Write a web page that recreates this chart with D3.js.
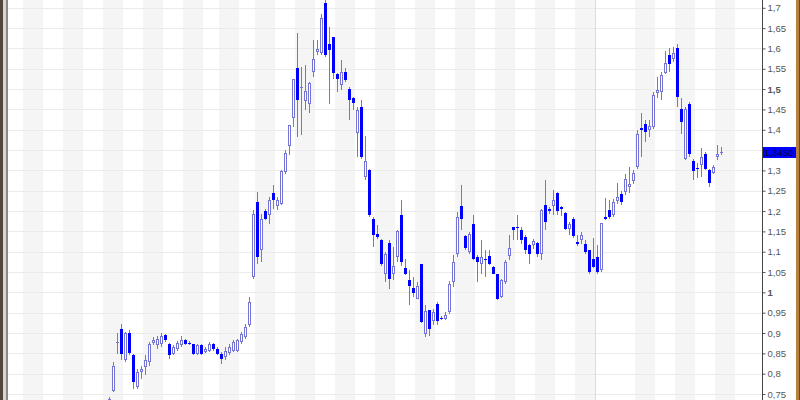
<!DOCTYPE html>
<html>
<head>
<meta charset="utf-8">
<script src="https://cdn.jsdelivr.net/npm/d3@7"></script>
<style>
    html, body { margin: 0; padding: 0; background: #fff; }
    svg { display: block; }
</style>
</head>
<body>
<div id="containerGrafico"></div>
<script>

// candles diarios
const aberturas = [
    0.720, 0.757, 0.875, 0.911, 0.833, 0.900, 0.845, 0.767, 0.804, 0.816,
    0.828, 0.875, 0.870, 0.874, 0.894, 0.874, 0.849, 0.861, 0.870, 0.884,
    0.876, 0.872, 0.849, 0.870, 0.853, 0.857, 0.872, 0.861, 0.849, 0.841,
    0.851, 0.857, 0.857, 0.878, 0.890, 0.919, 1.038, 1.222, 1.103, 1.200,
    1.190, 1.244, 1.212, 1.218, 1.296, 1.360, 1.429, 1.551, 1.502, 1.471,
    1.463, 1.542, 1.591, 1.588, 1.712, 1.612, 1.627, 1.537, 1.509, 1.542,
    1.501, 1.477, 1.391, 1.455, 1.284, 1.300, 1.181, 1.143, 1.128, 1.046,
    1.121, 1.044, 1.087, 1.190, 1.061, 1.031, 1.011, 0.984, 1.071, 0.898,
    0.956, 0.929, 0.972, 0.938, 0.934, 0.952, 1.025, 1.095, 1.212, 1.138,
    1.099, 1.167, 1.087, 1.071, 1.083, 1.089, 1.062, 1.046, 0.988, 1.025,
    1.089, 1.161, 1.162, 1.153, 1.135, 1.116, 1.116, 1.121, 1.095, 1.214,
    1.206, 1.212, 1.244, 1.210, 1.195, 1.157, 1.181, 1.124, 1.128, 1.120,
    1.103, 1.083, 1.087, 1.054, 1.185, 1.202, 1.190, 1.225, 1.242, 1.247,
    1.259, 1.274, 1.308, 1.404, 1.415, 1.399, 1.407, 1.490, 1.493, 1.540,
    1.583, 1.573, 1.602, 1.452, 1.329, 1.463, 1.323, 1.305, 1.313, 1.341,
    1.300, 1.294, 1.333, 1.343
];
const maximas = [
    0.742, 0.828, 0.900, 0.923, 0.902, 0.908, 0.849, 0.812, 0.820, 0.845,
    0.878, 0.890, 0.892, 0.900, 0.898, 0.875, 0.870, 0.880, 0.892, 0.886,
    0.880, 0.874, 0.874, 0.874, 0.865, 0.878, 0.876, 0.865, 0.853, 0.865,
    0.874, 0.884, 0.886, 0.902, 0.923, 0.988, 1.202, 1.247, 1.194, 1.205,
    1.235, 1.263, 1.235, 1.302, 1.349, 1.411, 1.526, 1.638, 1.555, 1.559,
    1.518, 1.622, 1.620, 1.684, 1.722, 1.653, 1.628, 1.539, 1.571, 1.551,
    1.505, 1.481, 1.456, 1.473, 1.384, 1.304, 1.185, 1.165, 1.132, 1.099,
    1.128, 1.111, 1.153, 1.228, 1.083, 1.054, 1.039, 1.025, 1.071, 0.970,
    0.956, 0.960, 0.976, 0.943, 0.952, 1.029, 1.091, 1.197, 1.263, 1.140,
    1.148, 1.190, 1.091, 1.130, 1.103, 1.103, 1.066, 1.046, 1.034, 1.079,
    1.140, 1.162, 1.190, 1.162, 1.140, 1.120, 1.132, 1.124, 1.204, 1.276,
    1.210, 1.251, 1.247, 1.212, 1.197, 1.173, 1.185, 1.140, 1.148, 1.128,
    1.103, 1.134, 1.116, 1.171, 1.231, 1.226, 1.230, 1.268, 1.250, 1.290,
    1.308, 1.300, 1.399, 1.440, 1.423, 1.425, 1.493, 1.530, 1.542, 1.594,
    1.600, 1.604, 1.610, 1.477, 1.456, 1.468, 1.329, 1.318, 1.354, 1.345,
    1.304, 1.313, 1.362, 1.358
];
const minimas = [
    0.710, 0.755, 0.849, 0.833, 0.828, 0.845, 0.763, 0.763, 0.788, 0.796,
    0.820, 0.870, 0.861, 0.865, 0.878, 0.837, 0.845, 0.857, 0.865, 0.870,
    0.870, 0.847, 0.845, 0.847, 0.851, 0.853, 0.857, 0.845, 0.824, 0.833,
    0.845, 0.853, 0.853, 0.874, 0.886, 0.914, 1.034, 1.071, 1.075, 1.177,
    1.169, 1.206, 1.202, 1.214, 1.292, 1.337, 1.407, 1.382, 1.386, 1.448,
    1.440, 1.530, 1.585, 1.583, 1.580, 1.464, 1.526, 1.493, 1.497, 1.518,
    1.423, 1.448, 1.333, 1.329, 1.276, 1.185, 1.111, 1.131, 1.065, 1.025,
    1.009, 1.030, 1.075, 1.066, 1.042, 0.968, 0.988, 0.984, 0.925, 0.890,
    0.893, 0.919, 0.919, 0.932, 0.931, 0.947, 1.013, 1.087, 1.153, 1.103,
    1.095, 1.079, 1.025, 1.046, 1.039, 1.067, 1.044, 0.980, 0.985, 1.021,
    1.079, 1.130, 1.128, 1.120, 1.095, 1.071, 1.107, 1.087, 1.079, 1.153,
    1.194, 1.190, 1.190, 1.188, 1.153, 1.140, 1.134, 1.114, 1.120, 1.095,
    1.046, 1.061, 1.046, 1.050, 1.177, 1.181, 1.185, 1.218, 1.215, 1.239,
    1.245, 1.267, 1.304, 1.333, 1.370, 1.382, 1.403, 1.477, 1.473, 1.538,
    1.542, 1.567, 1.456, 1.390, 1.325, 1.333, 1.276, 1.281, 1.284, 1.302,
    1.259, 1.292, 1.325, 1.337
];
const fechamentos = [
    0.737, 0.820, 0.878, 0.849, 0.899, 0.851, 0.779, 0.804, 0.812, 0.833,
    0.874, 0.882, 0.886, 0.892, 0.882, 0.847, 0.865, 0.875, 0.882, 0.874,
    0.875, 0.849, 0.870, 0.849, 0.861, 0.874, 0.861, 0.849, 0.837, 0.857,
    0.865, 0.878, 0.882, 0.898, 0.915, 0.977, 1.194, 1.087, 1.181, 1.181,
    1.226, 1.228, 1.226, 1.299, 1.343, 1.411, 1.524, 1.474, 1.504, 1.495,
    1.515, 1.573, 1.598, 1.674, 1.583, 1.597, 1.540, 1.526, 1.542, 1.522,
    1.473, 1.467, 1.448, 1.333, 1.323, 1.190, 1.140, 1.136, 1.070, 1.094,
    1.034, 1.066, 1.151, 1.075, 1.046, 1.015, 0.998, 1.015, 0.927, 0.954,
    0.911, 0.952, 0.929, 0.937, 0.945, 1.021, 1.075, 1.185, 1.181, 1.110,
    1.144, 1.083, 1.075, 1.087, 1.082, 1.071, 1.046, 0.984, 1.030, 1.075,
    1.108, 1.154, 1.161, 1.128, 1.103, 1.095, 1.126, 1.095, 1.202, 1.173,
    1.199, 1.226, 1.200, 1.205, 1.157, 1.167, 1.138, 1.118, 1.140, 1.099,
    1.050, 1.062, 1.050, 1.171, 1.180, 1.185, 1.222, 1.234, 1.222, 1.280,
    1.267, 1.294, 1.389, 1.399, 1.394, 1.409, 1.485, 1.498, 1.534, 1.563,
    1.561, 1.589, 1.481, 1.419, 1.450, 1.340, 1.299, 1.304, 1.333, 1.304,
    1.269, 1.308, 1.341, 1.345
];

const ticksPreco = [0.75, 0.8, 0.85, 0.9, 0.95, 1, 1.05, 1.1, 1.15, 1.2, 1.25,
    1.3, 1.35, 1.4, 1.45, 1.5, 1.55, 1.6, 1.65, 1.7];

// inicio (indice do candle) de cada semana sombreada
const semanasCinza = [-21, -11, -1, 9, 19, 28, 37, 47, 57, 67, 77, 87, 97, 107, 117, 132, 142, 152];
const viradaAno = 122;
const ultimoPreco = 1.345;


class GraficoCandles {

    constructor(noRaiz) {
        this.noRaiz = noRaiz;
        this.largura = 800;
        this.altura = 400;
        this.local = d3.formatLocale({decimal: ",", thousands: ".", grouping: [3], currency: ["", ""]});
        this.renderizar();
    }

    renderizar() {
        const largura = this.largura;
        const altura = this.altura;
        const eixoX = 762;
        const esquerda = 8;

        const candles = aberturas.map((a, i) => ({
            i: i, o: a, h: maximas[i], l: minimas[i], c: fechamentos[i]
        }));

        const x = d3.scaleLinear().domain([-25.25, 163.25]).range([esquerda, eixoX]);
        const y = d3.scaleLinear().domain([0.75, 1.7]).range([394, 7.8]);

        const svg = d3.select(this.noRaiz).append("svg")
            .attr("width", largura)
            .attr("height", altura)
            .style("font-family", "'Liberation Sans', Arial, sans-serif");

        svg.append("rect").attr("width", largura).attr("height", altura).attr("fill", "#fff");

        const area = svg.append("g");

        area.selectAll(".banda")
            .data(semanasCinza)
                .enter().append("rect")
                    .attr("class", "banda")
                    .attr("x", (d) => Math.round(x(d - 0.5)))
                    .attr("y", 0)
                    .attr("width", (d) => Math.round(x(d + 4.5)) - Math.round(x(d - 0.5)))
                    .attr("height", altura)
                    .attr("fill", "#f5f5f5");

        area.selectAll(".grade")
            .data(ticksPreco)
                .enter().append("line")
                    .attr("class", "grade")
                    .attr("x1", esquerda)
                    .attr("x2", eixoX)
                    .attr("y1", (d) => Math.round(y(d)) + 0.5)
                    .attr("y2", (d) => Math.round(y(d)) + 0.5)
                    .attr("stroke", "#ebebeb");

        area.append("line")
            .attr("x1", Math.round(x(viradaAno - 0.5)) + 0.5)
            .attr("x2", Math.round(x(viradaAno - 0.5)) + 0.5)
            .attr("y1", 0)
            .attr("y2", altura)
            .attr("stroke", "#dcdcdc");

        const corPavio = "#7474d4";
        const corQueda = "#0000ff";

        const grupo = area.selectAll(".candle")
            .data(candles)
                .enter().append("g")
                    .attr("class", "candle");

        grupo.append("line")
            .attr("x1", (d) => Math.round(x(d.i)) + 0.5)
            .attr("x2", (d) => Math.round(x(d.i)) + 0.5)
            .attr("y1", (d) => Math.round(y(d.h)))
            .attr("y2", (d) => Math.round(y(d.l)))
            .attr("stroke", corPavio);

        grupo.each(function(d) {
            const g = d3.select(this);
            const cx = Math.round(x(d.i));
            const topo = Math.round(y(Math.max(d.o, d.c)));
            const base = Math.round(y(Math.min(d.o, d.c)));
            const alturaCorpo = base - topo;

            if (alturaCorpo < 2) {
                // doji: um traco horizontal
                g.append("rect")
                    .attr("x", cx - 1)
                    .attr("y", topo)
                    .attr("width", 3)
                    .attr("height", Math.max(1, alturaCorpo))
                    .attr("fill", d.c >= d.o ? corPavio : corQueda);
            } else if (d.c >= d.o) {
                g.append("rect")
                    .attr("x", cx - 0.5)
                    .attr("y", topo + 0.5)
                    .attr("width", 2)
                    .attr("height", alturaCorpo - 1)
                    .attr("fill", "#fff")
                    .attr("stroke", corPavio);
            } else {
                g.append("rect")
                    .attr("x", cx - 1)
                    .attr("y", topo)
                    .attr("width", 3)
                    .attr("height", alturaCorpo)
                    .attr("fill", corQueda);
            }
        });

        // eixo de precos a direita
        const yPreco = Math.round(y(ultimoPreco));
        const formatoTick = this.local.format(".2~f");
        const eixo = d3.axisRight(y)
            .tickValues(ticksPreco)
            .tickSize(3)
            .tickSizeOuter(0)
            .tickPadding(2)
            .tickFormat(formatoTick);

        const gEixo = svg.append("g")
            .attr("transform", `translate(${eixoX + 0.5},0)`)
            .call(eixo);

        gEixo.select(".domain").remove();
        gEixo.selectAll(".tick line").attr("stroke", "#555");
        gEixo.selectAll(".tick text")
            .attr("fill", "#555")
            .style("font-size", "9.5px")
            .style("font-family", "'Liberation Sans', Arial, sans-serif")
            .style("font-weight", (d) => (Number.isInteger(Math.round(d * 100) / 50) ? "bold" : "normal"));

        // o rotulo do ultimo preco esconde o tick que fica por baixo
        gEixo.selectAll(".tick")
            .filter((d) => Math.abs(y(d) - yPreco) < 8)
            .remove();

        svg.append("line")
            .attr("x1", eixoX + 0.5)
            .attr("x2", eixoX + 0.5)
            .attr("y1", 0)
            .attr("y2", altura)
            .attr("stroke", "#444");

        svg.append("rect")
            .attr("x", eixoX + 1)
            .attr("y", yPreco - 5)
            .attr("width", 33)
            .attr("height", 11)
            .attr("fill", "#0000ff");
        svg.append("text")
            .attr("x", eixoX + 2)
            .attr("y", yPreco + 0.5)
            .attr("dy", "0.35em")
            .attr("fill", "#000040")
            .style("font-size", "9.5px")
            .text(this.local.format(".4f")(ultimoPreco));

        // moldura da janela
        svg.append("rect").attr("x", 0).attr("y", 0).attr("width", 3).attr("height", altura).attr("fill", "#54463a");
        svg.append("rect").attr("x", 3).attr("y", 0).attr("width", 3).attr("height", altura).attr("fill", "#d6d6d6");
        svg.append("rect").attr("x", 6).attr("y", 0).attr("width", 2).attr("height", altura).attr("fill", "#8a8a8a");
        svg.append("rect").attr("x", 796).attr("y", 0).attr("width", 3).attr("height", altura).attr("fill", "#b8803e");
        svg.append("rect").attr("x", 799).attr("y", 0).attr("width", 1).attr("height", altura).attr("fill", "#6b4a22");
    }
}

new GraficoCandles(document.querySelector("#containerGrafico"));
</script>
</body>
</html>
